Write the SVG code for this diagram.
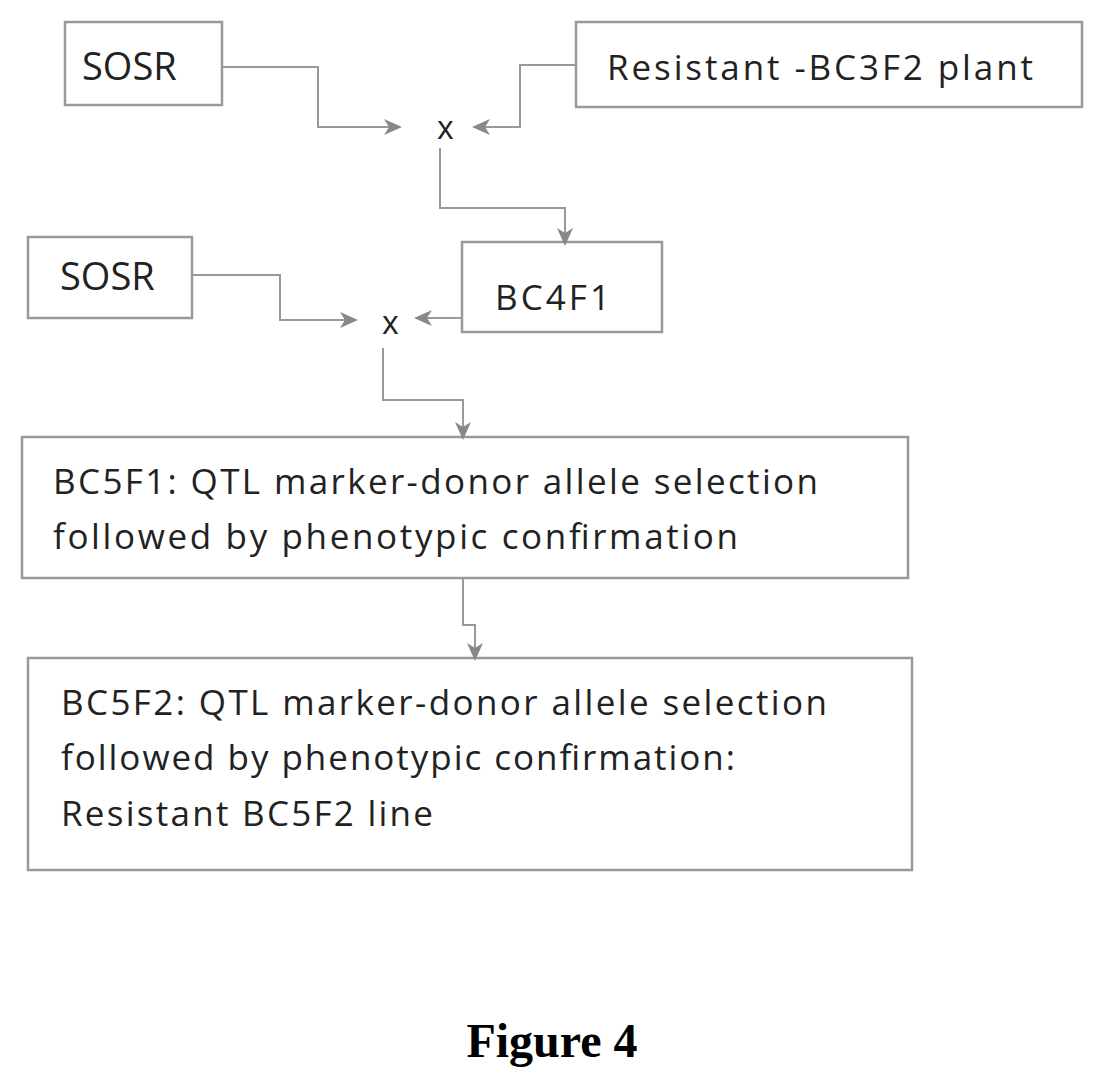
<svg xmlns="http://www.w3.org/2000/svg" width="1104" height="1087" viewBox="0 0 1104 1087">
<defs>
<marker id="ah" markerWidth="18" markerHeight="18" refX="16" refY="8" orient="auto" markerUnits="userSpaceOnUse" viewBox="0 0 18 16">
<path d="M0,0 L18,8 L0,16 L5,8 Z" fill="#888"/>
</marker>
<style>
.box{fill:#fff;stroke:#999;stroke-width:2.5}
.t{font-family:"Open Sans","Liberation Sans",sans-serif;font-size:35px;fill:#222}
.s{font-family:"Open Sans","Liberation Sans",sans-serif;font-size:38px;fill:#222}
.x{font-family:"Open Sans","Liberation Sans",sans-serif;font-size:32px;fill:#222}
.c{fill:none;stroke:#999;stroke-width:2;marker-end:url(#ah)}
</style>
</defs>
<rect width="1104" height="1087" fill="#fff"/>
<g id="n1"><rect class="box" x="65" y="22" width="157" height="83"/><text class="s" x="82" y="80">SOSR</text></g>
<g id="n2"><rect class="box" x="576" y="22" width="506" height="85"/><text class="t" x="607" y="80" textLength="426" lengthAdjust="spacing">Resistant -BC3F2  plant</text></g>
<g id="x1"><text class="x" x="437" y="139">x</text></g>
<g id="n3"><rect class="box" x="28" y="237" width="164" height="81"/><text class="s" x="60" y="290">SOSR</text></g>
<g id="n4"><rect class="box" x="462" y="242" width="200" height="90"/><text class="t" x="495" y="310" textLength="115" lengthAdjust="spacing">BC4F1</text></g>
<g id="x2"><text class="x" x="382" y="334">x</text></g>
<g id="n5"><rect class="box" x="22" y="437" width="886" height="141"/>
<text class="t" x="53" y="494" textLength="765" lengthAdjust="spacing">BC5F1: QTL marker-donor  allele selection</text>
<text class="t" x="53" y="549" textLength="685" lengthAdjust="spacing">followed by phenotypic confirmation</text></g>
<g id="n6"><rect class="box" x="28" y="658" width="884" height="212"/>
<text class="t" x="61" y="715" textLength="766" lengthAdjust="spacing">BC5F2: QTL marker-donor  allele selection</text>
<text class="t" x="61" y="770" textLength="674" lengthAdjust="spacing">followed by phenotypic confirmation:</text>
<text class="t" x="61" y="826" textLength="372" lengthAdjust="spacing">Resistant BC5F2 line</text></g>
<g id="connectors">
<path class="c" d="M222,67 H318 V127 H400"/>
<path class="c" d="M576,65 H520 V127 H474"/>
<path class="c" d="M440,148 V208 H565 V244"/>
<path class="c" d="M192,275 H280 V320 H356"/>
<path class="c" d="M462,318 H416"/>
<path class="c" d="M383,348 V400 H463 V438"/>
<path class="c" d="M463,578 V625 H475 V659"/>
</g>
<text x="552" y="1057" text-anchor="middle" font-family="Liberation Serif,serif" font-weight="bold" font-size="48">Figure 4</text>
</svg>
